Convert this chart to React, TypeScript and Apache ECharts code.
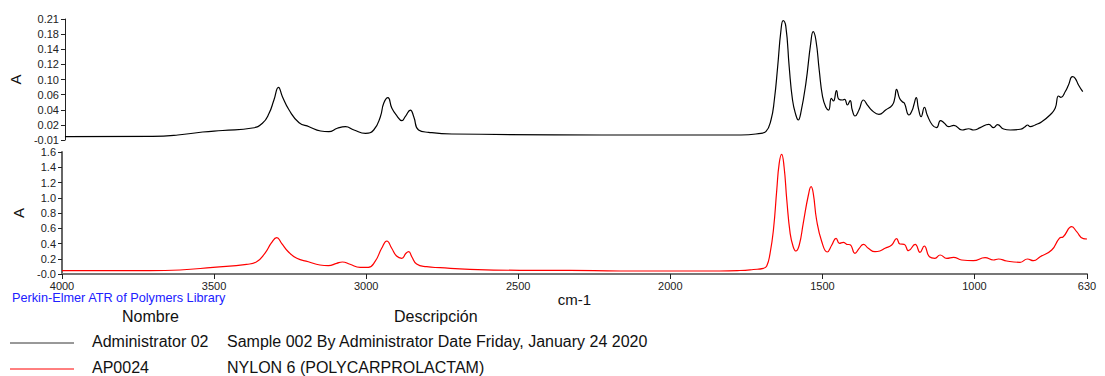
import React, { useEffect, useRef } from "react";
import * as echarts from "echarts";

// ---- Axis ticks ----
const xTicks = [4000, 3500, 3000, 2500, 2000, 1500, 1000, 630];
const topTickValues = [-0.01, 0.0175, 0.045, 0.0725, 0.1, 0.1275, 0.155, 0.1825, 0.21];
const topTickLabels = ["-0.01", "0.02", "0.04", "0.06", "0.10", "0.12", "0.14", "0.18", "0.21"];
const bottomTickValues = [-0.02, 0.1825, 0.385, 0.5875, 0.79, 0.9925, 1.195, 1.3975, 1.6];
const bottomTickLabels = ["-0.0", "0.2", "0.4", "0.6", "0.8", "1.0", "1.2", "1.4", "1.6"];

// ---- Sample spectrum (Administrator 02) ----
const sampleWn = [
  4000, 3711, 3628, 3546, 3480, 3382, 3349, 3327, 3311, 3296, 3283, 3261, 3228, 3195, 3157, 3130,
  3102, 3075, 3047, 3009, 2982, 2960, 2949, 2935, 2922, 2905, 2889, 2878, 2861, 2850, 2834, 2801,
  2724, 2231, 1771, 1705, 1689, 1672, 1661, 1650, 1639, 1632, 1623, 1612, 1601, 1590, 1582, 1574,
  1557, 1541, 1533, 1524, 1513, 1502, 1491, 1482, 1473, 1466, 1456, 1448, 1436, 1429, 1420, 1411,
  1404, 1395, 1382, 1367, 1354, 1338, 1316, 1294, 1272, 1264, 1258, 1248, 1239, 1232, 1217, 1206,
  1201, 1193, 1186, 1177, 1166, 1157, 1140, 1126, 1113, 1102, 1086, 1069, 1042, 1020, 1004, 982,
  954, 938, 925, 905, 883, 850, 834, 826, 817, 801, 779, 752, 735, 724, 716, 702, 691, 678, 669,
  658, 644,
];
const sampleAbs = [
  -0.004, -0.0033, -0.0009, 0.0045, 0.0073, 0.0118, 0.0204, 0.0385, 0.0627, 0.0858, 0.0687, 0.0445,
  0.0215, 0.0142, 0.0064, 0.0051, 0.0113, 0.0142, 0.0082, 0.0022, 0.0082, 0.0324, 0.0567, 0.0669,
  0.0476, 0.0336, 0.0251, 0.0324, 0.0445, 0.0324, 0.0082, 0.004, 0.0009, -0.0009, -0.0009, 0.0022,
  0.0051, 0.0264, 0.0627, 0.1233, 0.19, 0.207, 0.196, 0.1233, 0.0627, 0.0355, 0.0264, 0.0385,
  0.0931, 0.1658, 0.1869, 0.1718, 0.1173, 0.0687, 0.0495, 0.0445, 0.0658, 0.0609, 0.0796, 0.064,
  0.0627, 0.064, 0.0536, 0.0615, 0.0445, 0.0336, 0.0445, 0.0627, 0.0536, 0.0433, 0.0367, 0.0445,
  0.0536, 0.0658, 0.0822, 0.0658, 0.0596, 0.0567, 0.0355, 0.0445, 0.0536, 0.0669, 0.0476, 0.0324,
  0.0495, 0.0355, 0.0173, 0.0124, 0.0251, 0.0215, 0.0142, 0.0167, 0.0082, 0.0105, 0.0082, 0.0124,
  0.0185, 0.0124, 0.0178, 0.01, 0.0082, 0.0095, 0.0142, 0.0173, 0.0142, 0.0173, 0.0233, 0.0355,
  0.0476, 0.07, 0.0676, 0.0778, 0.09, 0.1051, 0.1022, 0.09, 0.0778,
];

// ---- Library spectrum (AP0024, Nylon 6) ----
const libraryWn = [
  4000, 3711, 3612, 3503, 3393, 3360, 3333, 3311, 3294, 3278, 3256, 3228, 3190, 3152, 3124, 3097,
  3078, 3053, 3020, 2993, 2971, 2949, 2932, 2916, 2900, 2883, 2869, 2860, 2850, 2834, 2801, 2757,
  2659, 2494, 2330, 2165, 2001, 1837, 1771, 1727, 1694, 1683, 1672, 1661, 1650, 1642, 1634, 1626,
  1617, 1606, 1596, 1587, 1576, 1563, 1546, 1537, 1530, 1519, 1502, 1484, 1469, 1455, 1444, 1431,
  1420, 1409, 1393, 1379, 1365, 1349, 1327, 1311, 1294, 1272, 1256, 1245, 1231, 1217, 1195, 1179,
  1165, 1148, 1130, 1113, 1091, 1069, 1042, 1004, 965, 938, 921, 894, 850, 826, 806, 784, 746, 721,
  708, 680, 664, 642, 630,
];
const libraryAbs = [
  0.0238, 0.0238, 0.0331, 0.069, 0.1088, 0.1433, 0.2549, 0.3956, 0.462, 0.3877, 0.2761, 0.1885,
  0.1433, 0.0995, 0.0902, 0.1221, 0.1393, 0.1088, 0.069, 0.069, 0.1433, 0.3213, 0.4182, 0.3213,
  0.219, 0.1885, 0.2549, 0.2761, 0.2097, 0.1128, 0.0769, 0.0637, 0.0424, 0.0291, 0.028, 0.0198,
  0.0198, 0.0198, 0.0265, 0.04, 0.0557, 0.0862, 0.2549, 0.5643, 1.0954, 1.45, 1.5695, 1.4048,
  0.9626, 0.5205, 0.3425, 0.2854, 0.3651, 0.6532, 1.029, 1.1393, 1.0516, 0.6971, 0.4089, 0.2721,
  0.3651, 0.4541, 0.3877, 0.4009, 0.3744, 0.3691, 0.2549, 0.3213, 0.3744, 0.3213, 0.2761, 0.2854,
  0.3213, 0.3651, 0.4487, 0.3784, 0.3744, 0.2894, 0.3744, 0.2682, 0.3518, 0.2097, 0.1885, 0.2323,
  0.1885, 0.2018, 0.1659, 0.1566, 0.1965, 0.1659, 0.1792, 0.1526, 0.1354, 0.1792, 0.1566, 0.2097,
  0.2987, 0.4541, 0.4753, 0.6081, 0.5417, 0.4487, 0.4448,
];

// ---- Legend / captions ----
const libraryCaption = "Perkin-Elmer ATR of Polymers Library";
const xAxisName = "cm-1";
const yAxisName = "A";
const legendHeaders = ["Nombre", "Descripción"];
const legendNames = ["Administrator 02", "AP0024"];
const legendDescriptions = [
  "Sample 002 By Administrator Date Friday, January 24 2020",
  "NYLON 6 (POLYCARPROLACTAM)",
];
const seriesColors = ["#000000", "#ff0000"];

const FONT = "'Liberation Sans', Arial, sans-serif";

function labelFor(values: number[], labels: string[]) {
  return (v: number) => {
    let best = 0;
    for (let i = 1; i < values.length; i++) {
      if (Math.abs(values[i] - v) < Math.abs(values[best] - v)) best = i;
    }
    return labels[best];
  };
}

function zip(xs: number[], ys: number[]) {
  return xs.map((x, i) => [x, ys[i]]);
}

export default function App() {
  const ref = useRef<HTMLDivElement>(null);

  useEffect(() => {
    if (!ref.current) return;
    const chart = echarts.init(ref.current, null, { renderer: "svg" });

    const legendGraphics: any[] = [];
    legendHeaders.forEach((h, i) => {
      legendGraphics.push({
        type: "text",
        x: i === 0 ? 122 : 394,
        y: 316,
        style: { text: h, fill: "#111", fontSize: 16, fontFamily: FONT, verticalAlign: "middle" },
      });
    });
    legendNames.forEach((n, i) => {
      const yy = 341 + i * 26;
      legendGraphics.push({
        type: "line",
        shape: { x1: 10, y1: yy + 2, x2: 74, y2: yy + 2 },
        style: { stroke: i === 0 ? "#333" : seriesColors[1], lineWidth: 1 },
      });
      legendGraphics.push({
        type: "text",
        x: 92,
        y: yy,
        style: { text: n, fill: "#111", fontSize: 16, fontFamily: FONT, verticalAlign: "middle" },
      });
      legendGraphics.push({
        type: "text",
        x: 227,
        y: yy,
        style: {
          text: legendDescriptions[i],
          fill: "#111",
          fontSize: 16,
          fontFamily: FONT,
          verticalAlign: "middle",
        },
      });
    });

    const yCommon = (min: number, max: number, vals: number[], labs: string[], lineColor: string, lw: number) => ({
      type: "value",
      min,
      max,
      name: yAxisName,
      nameLocation: "middle",
      nameGap: 36,
      nameTextStyle: { fontSize: 15, fontFamily: FONT, color: "#111" },
      splitLine: { show: false },
      axisLine: { show: true, lineStyle: { color: lineColor, width: lw } },
      axisTick: { show: true, length: 4, customValues: vals, lineStyle: { color: "#222" } },
      axisLabel: {
        customValues: vals,
        formatter: labelFor(vals, labs),
        fontSize: 11,
        fontFamily: FONT,
        color: "#222",
        margin: 6,
      },
    });

    chart.setOption({
      animation: false,
      backgroundColor: "#ffffff",
      grid: [
        { left: 62, right: 18, top: 19, height: 121 },
        { left: 62, right: 18, top: 152, height: 122 },
      ],
      xAxis: [
        { gridIndex: 0, type: "value", min: 630, max: 4000, inverse: true, show: false },
        {
          gridIndex: 1,
          type: "value",
          min: 630,
          max: 4000,
          inverse: true,
          name: xAxisName,
          nameLocation: "middle",
          nameGap: 17,
          nameTextStyle: { fontSize: 15, fontFamily: FONT, color: "#111" },
          splitLine: { show: false },
          axisLine: { show: true, onZero: false, lineStyle: { color: "#777", width: 2 } },
          axisTick: { show: true, length: 5, customValues: xTicks, lineStyle: { color: "#222" } },
          axisLabel: {
            customValues: xTicks,
            formatter: (v: number) => String(Math.round(v)),
            fontSize: 11,
            fontFamily: FONT,
            color: "#222",
            margin: 6,
          },
        },
      ],
      yAxis: [
        { gridIndex: 0, ...yCommon(-0.01, 0.21, topTickValues, topTickLabels, "#222", 1) },
        { gridIndex: 1, ...yCommon(-0.02, 1.6, bottomTickValues, bottomTickLabels, "#666", 2) },
      ],
      series: [
        {
          type: "line",
          xAxisIndex: 0,
          yAxisIndex: 0,
          data: zip(sampleWn, sampleAbs),
          showSymbol: false,
          smooth: 0.5,
          lineStyle: { color: seriesColors[0], width: 1.2 },
        },
        {
          type: "line",
          xAxisIndex: 1,
          yAxisIndex: 1,
          data: zip(libraryWn, libraryAbs),
          showSymbol: false,
          smooth: 0.5,
          lineStyle: { color: seriesColors[1], width: 1.2 },
        },
      ],
      graphic: [
        {
          type: "text",
          x: 12,
          y: 298,
          style: {
            text: libraryCaption,
            fill: "#2020ff",
            fontSize: 12.7,
            fontFamily: FONT,
            verticalAlign: "middle",
          },
        },
        ...legendGraphics,
      ],
    });

    return () => chart.dispose();
  }, []);

  return (
    <div
      ref={ref}
      style={{ position: "fixed", left: 0, top: 0, width: 1105, height: 376, background: "#fff" }}
    />
  );
}
